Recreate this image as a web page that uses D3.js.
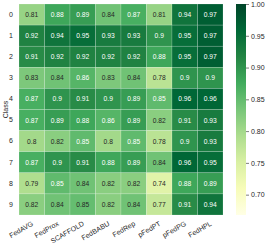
<!DOCTYPE html>
<html><head><meta charset="utf-8">
<script src="https://cdn.jsdelivr.net/npm/d3@7/dist/d3.min.js"></script>
<style>body{margin:0;background:#fff;} svg{display:block;font-family:"Liberation Sans",Arial,sans-serif;} text{font-family:"Liberation Sans",Arial,sans-serif;}</style>
</head><body>
<svg id="chart" width="266" height="244"></svg>
<script>
const methods = ["FedAVG","FedProx","SCAFFOLD","FedBABU","FedRep","pFedPT","pFedPG","FedHPL"];
const classes = ["0","1","2","3","4","5","6","7","8","9"];
const values = [
  [0.81,0.88,0.89,0.84,0.87,0.81,0.94,0.97],
  [0.92,0.94,0.95,0.93,0.93,0.90,0.95,0.97],
  [0.91,0.92,0.92,0.92,0.92,0.88,0.95,0.97],
  [0.83,0.84,0.86,0.83,0.84,0.78,0.90,0.90],
  [0.87,0.90,0.91,0.90,0.89,0.852,0.96,0.96],
  [0.87,0.89,0.88,0.86,0.89,0.82,0.91,0.93],
  [0.80,0.82,0.852,0.80,0.852,0.78,0.90,0.93],
  [0.87,0.90,0.91,0.88,0.89,0.84,0.96,0.95],
  [0.79,0.852,0.84,0.82,0.82,0.74,0.88,0.89],
  [0.82,0.84,0.848,0.82,0.84,0.77,0.91,0.94]
];
const colorTicks = [0.70,0.75,0.80,0.85,0.90,0.95,1.00];
const vmin = 0.668, vmax = 1.0;
const ylgn = ["#ffffe5","#f7fcb9","#d9f0a3","#addd8e","#78c679","#41ab5d","#238443","#006837","#004529"];

const svg = d3.select("#chart");
const L = 19, R = 223, T = 4, B = 215;
const x = d3.scaleBand().domain(methods).range([L, R]);
const y = d3.scaleBand().domain(classes).range([T, B]);
const color = d3.scaleLinear()
  .domain(ylgn.map((_, i) => vmin + (vmax - vmin) * i / (ylgn.length - 1)))
  .range(ylgn).clamp(true);
const fmt = d3.format(".2~g");
const ink = "#262626";

const cells = [];
values.forEach((row, i) => row.forEach((v, j) => cells.push({c: classes[i], m: methods[j], v})));

svg.append("g").selectAll("rect").data(cells).join("rect")
  .attr("x", d => x(d.m)).attr("y", d => y(d.c))
  .attr("width", x.bandwidth()).attr("height", y.bandwidth())
  .attr("fill", d => color(d.v))
  .attr("stroke", "rgba(255,255,255,0.35)").attr("stroke-width", 0.5);

svg.append("g").selectAll("text").data(cells).join("text")
  .attr("x", d => x(d.m) + x.bandwidth() / 2)
  .attr("y", d => y(d.c) + y.bandwidth() / 2)
  .attr("text-anchor", "middle").attr("dominant-baseline", "central")
  .attr("font-size", 6.7)
  .attr("fill", d => d.v < 0.85 ? ink : "#ffffff")
  .text(d => fmt(d.v));

// y axis
const yAxis = svg.append("g").attr("transform", `translate(${L},0)`)
  .call(d3.axisLeft(y).tickSize(0).tickPadding(6));
yAxis.attr("font-family", null);
yAxis.select(".domain").remove();
yAxis.selectAll("text").attr("font-size", 7).attr("fill", ink);

svg.append("text").attr("transform", `translate(5,${(T + B) / 2}) rotate(-90)`)
  .attr("text-anchor", "middle").attr("dominant-baseline", "central")
  .attr("font-size", 7).attr("fill", ink).text("Class");

// x axis
const xAxis = svg.append("g").attr("transform", `translate(0,${B})`)
  .call(d3.axisBottom(x).tickSize(0));
xAxis.attr("font-family", null);
xAxis.select(".domain").remove();
xAxis.selectAll("text")
  .attr("font-size", 7).attr("fill", ink)
  .attr("text-anchor", "end").attr("x", 0).attr("y", 0).attr("dy", 0)
  .attr("transform", "translate(2,10) rotate(-30)");

// colorbar
const cbX = 236, cbW = 10;
const cy = d3.scaleLinear().domain([vmin, vmax]).range([B, T]);
const defs = svg.append("defs");
const grad = defs.append("linearGradient").attr("id", "cbgrad")
  .attr("x1", 0).attr("y1", 1).attr("x2", 0).attr("y2", 0);
ylgn.forEach((c, i) => grad.append("stop").attr("offset", i / (ylgn.length - 1)).attr("stop-color", c));
svg.append("rect").attr("x", cbX).attr("y", T).attr("width", cbW).attr("height", B - T)
  .attr("fill", "url(#cbgrad)");
const cAxis = svg.append("g").attr("transform", `translate(${cbX + cbW},0)`)
  .call(d3.axisRight(cy).tickValues(colorTicks).tickFormat(d3.format(".2f")).tickSize(3).tickPadding(2));
cAxis.attr("font-family", null);
cAxis.select(".domain").remove();
cAxis.selectAll("line").attr("stroke", ink).attr("stroke-width", 0.6);
cAxis.selectAll("text").attr("font-size", 7).attr("fill", ink);
</script>
</body></html>
